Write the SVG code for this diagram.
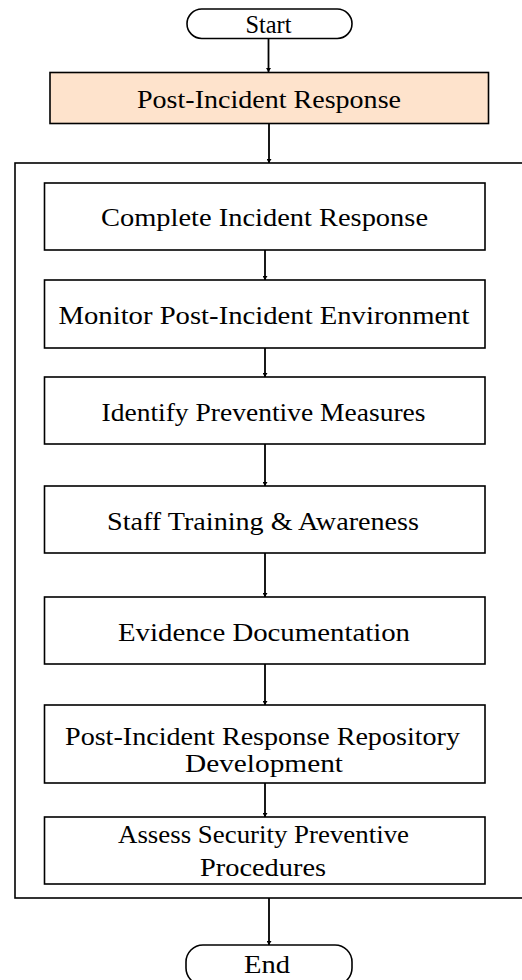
<svg xmlns="http://www.w3.org/2000/svg" width="522" height="980" viewBox="0 0 522 980">
<style>
.box{fill:#ffffff;stroke:#000;stroke-width:1.6}
.peach{fill:#fee3cc;stroke:#000;stroke-width:1.6}
.t{font-size:26px;fill:#000;text-anchor:middle}
.c{stroke:#000;stroke-width:1.8;fill:none;marker-end:url(#ah)}
</style>
<defs>
<marker id="ah" markerUnits="userSpaceOnUse" markerWidth="4" markerHeight="5" refX="4" refY="2.5" orient="auto" viewBox="0 0 4 5">
<path d="M0,0 L4,2.5 L0,5 Z" fill="#000"/>
</marker>
</defs>
<rect width="522" height="980" fill="#fff"/>
<g id="container"><rect x="15" y="163" width="530" height="735" fill="none" stroke="#000" stroke-width="1.6"/></g>
<g id="connectors">
<line class="c" x1="268.5" y1="39" x2="268.5" y2="72"/>
<line class="c" x1="269" y1="124" x2="269" y2="163"/>
<line class="c" x1="265" y1="250" x2="265" y2="280"/>
<line class="c" x1="265" y1="348" x2="265" y2="377"/>
<line class="c" x1="265" y1="444" x2="265" y2="486"/>
<line class="c" x1="265" y1="553" x2="265" y2="597"/>
<line class="c" x1="265" y1="664" x2="265" y2="705"/>
<line class="c" x1="265" y1="783" x2="265" y2="817"/>
<line class="c" x1="269" y1="898" x2="269" y2="945"/>
</g>
<g font-family="Liberation Serif, Times New Roman, serif">
<g id="start"><rect class="box" x="187" y="9" width="165" height="29.5" rx="14.75"/><text class="t" x="268.5" y="33" textLength="46" lengthAdjust="spacingAndGlyphs">Start</text></g>
<g id="post-incident-response"><rect class="peach" x="50" y="72.5" width="438.5" height="51"/><text class="t" x="269" y="108" textLength="264" lengthAdjust="spacingAndGlyphs">Post-Incident Response</text></g>
<g id="complete"><rect class="box" x="44.5" y="183" width="440.5" height="67"/><text class="t" x="264.5" y="226" textLength="327" lengthAdjust="spacingAndGlyphs">Complete Incident Response</text></g>
<g id="monitor"><rect class="box" x="44.5" y="280" width="440.5" height="68"/><text class="t" x="264" y="324" textLength="411" lengthAdjust="spacingAndGlyphs">Monitor Post-Incident Environment</text></g>
<g id="identify"><rect class="box" x="44.5" y="377" width="440.5" height="67"/><text class="t" x="263.5" y="421" textLength="324" lengthAdjust="spacingAndGlyphs">Identify Preventive Measures</text></g>
<g id="staff"><rect class="box" x="44.5" y="486" width="440.5" height="67"/><text class="t" x="263" y="530" textLength="312" lengthAdjust="spacingAndGlyphs">Staff Training &amp; Awareness</text></g>
<g id="evidence"><rect class="box" x="44.5" y="597" width="440.5" height="67"/><text class="t" x="264" y="641" textLength="292" lengthAdjust="spacingAndGlyphs">Evidence Documentation</text></g>
<g id="repository"><rect class="box" x="44.5" y="705" width="440.5" height="78"/><text class="t" x="262.5" y="745" textLength="395" lengthAdjust="spacingAndGlyphs">Post-Incident Response Repository</text><text class="t" x="264" y="772" textLength="158" lengthAdjust="spacingAndGlyphs">Development</text></g>
<g id="assess"><rect class="box" x="44.5" y="817" width="440.5" height="67"/><text class="t" x="263.5" y="843" textLength="291" lengthAdjust="spacingAndGlyphs">Assess Security Preventive</text><text class="t" x="263" y="876" textLength="126" lengthAdjust="spacingAndGlyphs">Procedures</text></g>
<g id="end"><rect class="box" x="186" y="945" width="166" height="40" rx="17"/><text class="t" x="267" y="973" textLength="46" lengthAdjust="spacingAndGlyphs">End</text></g>
</g>
</svg>
